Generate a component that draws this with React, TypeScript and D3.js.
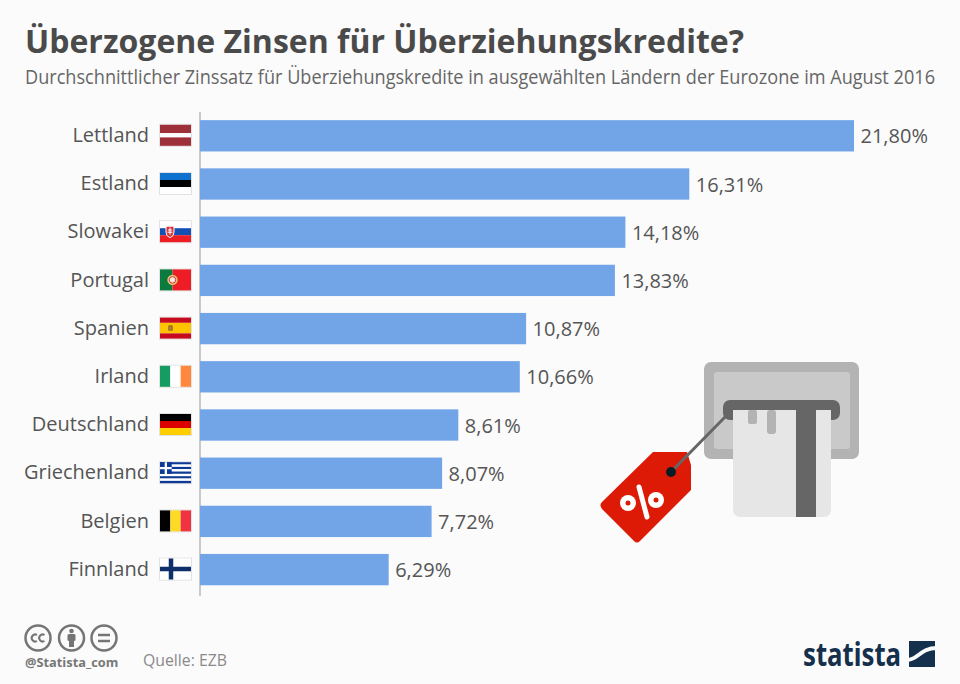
import React from "react";
import * as d3 from "d3";

const countries = ["Lettland","Estland","Slowakei","Portugal","Spanien","Irland","Deutschland","Griechenland","Belgien","Finnland"];
const rates = [21.80,16.31,14.18,13.83,10.87,10.66,8.61,8.07,7.72,6.29];
const titleText = "Überzogene Zinsen für Überziehungskredite?";
const subtitleText = "Durchschnittlicher Zinssatz für Überziehungskredite in ausgewählten Ländern der Eurozone im August 2016";
const sourceText = "Quelle: EZB";
const handleText = "@Statista_com";

const W = 960, H = 684;
const FONT = "'Open Sans', sans-serif";
const x = d3.scaleLinear().domain([0, 21.8]).range([200, 854]);
const y = d3.scaleBand().domain(countries).range([111.7, 593.7]).paddingInner(0.35).paddingOuter(0.175);
const fmt = (v: number) => v.toFixed(2).replace(".", ",") + "%";

function Flag({ name }: { name: string }) {
  const w = 31, h = 21;
  const hs = (cols: string[], weights?: number[]) => {
    const ws = weights ?? cols.map(() => 1);
    const t = d3.sum(ws); let c = 0;
    return cols.map((col, i) => { const r = <rect key={i} x={0} y={c / t * h} width={w} height={ws[i] / t * h} fill={col} />; c += ws[i]; return r; });
  };
  const vs = (cols: string[]) => cols.map((col, i) => <rect key={i} x={i * w / cols.length} y={0} width={w / cols.length} height={h} fill={col} />);
  let c: React.ReactNode = null;
  switch (name) {
    case "Lettland": c = hs(["#9e3039","#ffffff","#9e3039"],[2,1,2]); break;
    case "Estland": c = hs(["#0f72ce","#000000","#ffffff"]); break;
    case "Slowakei": c = <>{hs(["#ffffff","#1450b4","#ee1c25"])}
      <path d="M6 5h8v6q0 4-4 5.500q-4-1.500-4-5.500z" fill="#d8313a" stroke="#fff" strokeWidth={1} />
      <path d="M10 6.500v7M8 8.800h4M7.500 11h5" stroke="#fff" strokeWidth={1} /></>; break;
    case "Portugal": c = <><rect width={12.500} height={h} fill="#0a7a3e" /><rect x={12.500} width={18.500} height={h} fill="#ee1c25" />
      <circle cx={12.500} cy={10.500} r={5.200} fill="#e3c96e" /><circle cx={12.500} cy={10.500} r={3.300} fill="#f4e4e4" stroke="#d33" /></>; break;
    case "Spanien": c = <>{hs(["#c60b1e","#ffc400","#c60b1e"],[1,2,1])}<rect x={8} y={7.500} width={5} height={6} rx={1.500} fill="#ad7a2b" /></>; break;
    case "Irland": c = vs(["#169b62","#ffffff","#ff883e"]); break;
    case "Deutschland": c = hs(["#000000","#dd0000","#ffce00"]); break;
    case "Griechenland": c = <>{hs(["#0d3a94","#fff","#0d3a94","#fff","#0d3a94","#fff","#0d3a94","#fff","#0d3a94"])}
      <rect width={11.700} height={11.700} fill="#0d3a94" /><path d="M5.850 0v11.700M0 5.850h11.700" stroke="#fff" strokeWidth={2.300} /></>; break;
    case "Belgien": c = vs(["#000000","#fdda24","#ef3340"]); break;
    case "Finnland": c = <><rect width={w} height={h} fill="#fff" /><path d="M11 0v21M0 10.500h31" stroke="#0f2f6b" strokeWidth={4.500} /></>; break;
  }
  return <g><rect x={-0.5} y={-0.5} width={w + 1} height={h + 1} fill="none" stroke="#e2e2e2" />{c}</g>;
}

export default function App() {
  return (
    <svg width={W} height={H} viewBox={`0 0 ${W} ${H}`} style={{ position: "absolute", left: 0, top: 0, display: "block", fontFamily: FONT }}>
      <rect width={W} height={H} fill="#fbfbfb" />
      <text x={25} y={52.500} fontSize={31.500} fontWeight={700} fill="#4a4a4a" textLength={719} lengthAdjust="spacingAndGlyphs">{titleText}</text>
      <text x={25} y={83.500} fontSize={19.500} fill="#666666" textLength={910} lengthAdjust="spacingAndGlyphs">{subtitleText}</text>
      <line x1={200} x2={200} y1={112} y2={596} stroke="#c9c9c9" strokeWidth={2} />
      {countries.map((c, i) => {
        const by = y(c)!, bh = y.bandwidth(), cy = by + bh / 2;
        return (
          <g key={c}>
            <rect x={x(0)} y={by} width={x(rates[i]) - x(0)} height={bh} fill="#72a5e8" />
            <text x={149} y={cy + 6.200} textAnchor="end" fontSize={20} fill="#555555">{c}</text>
            <g transform={`translate(160,${cy - 11})`}><Flag name={c} /></g>
            <text x={x(rates[i]) + 6.500} y={cy + 7.500} fontSize={20} fill="#555555">{fmt(rates[i])}</text>
          </g>
        );
      })}
      {/* card illustration */}
      <g>
        <rect x={704} y={362} width={155} height={97} rx={7} fill="#b3b3b3" />
        <rect x={714} y={372} width={136} height={77} rx={3} fill="#c9c9c9" />
        <path d="M733 410h98v99q0 8-8 8h-82q-8 0-8-8z" fill="#e6e6e6" />
        <rect x={796} y={410} width={20} height={107} fill="#666666" />
        <rect x={748} y={410} width={9} height={14} rx={2} fill="#b3b3b3" />
        <rect x={767} y={410} width={9} height={24} rx={3} fill="#b3b3b3" />
        <path d="M730 400H833a7 7 0 0 1 7 7v6a7 7 0 0 1-7 7h-2v-10H733v10h-3a7 7 0 0 1-7-7v-6a7 7 0 0 1 7-7z" fill="#666666" />
        <path d="M653 452L687 452L691 465L691 490L640 541Q637 544 634 541L602 509Q599 505 602 502Z" fill="#dc1a06" />
        <line x1={671} y1={472} x2={727} y2={415} stroke="#666666" strokeWidth={3} />
        <circle cx={671} cy={472} r={5} fill="#0c1c24" />
        <circle cx={628} cy={503} r={8} fill="#fff" /><circle cx={628} cy={503} r={2.500} fill="#dc1a06" />
        <circle cx={656} cy={500} r={8} fill="#fff" /><circle cx={656} cy={500} r={2.500} fill="#dc1a06" />
        <line x1={639} y1={487} x2={647} y2={517} stroke="#fff" strokeWidth={5} strokeLinecap="round" />
      </g>
      {/* footer */}
      <g fill="none" stroke="#757575" strokeWidth={2.500}>
        <circle cx={38} cy={638} r={12.500} /><circle cx={71.500} cy={638} r={12.500} /><circle cx={104} cy={638} r={12.500} />
        <path d="M37 635a3.500 3.500 0 1 0 0 6M44.500 635a3.500 3.500 0 1 0 0 6" strokeWidth={2} />
        <path d="M98 635h12M98 641h12" strokeWidth={2.500} />
      </g>
      <circle cx={71.500} cy={631} r={2.300} fill="#757575" />
      <rect x={67.500} y={634} width={8} height={7} rx={1.500} fill="#757575" />
      <rect x={69} y={640} width={5} height={7} fill="#757575" />
      <text x={25} y={667} fontSize={12.800} fontWeight={700} fill="#777777">{handleText}</text>
      <text x={143} y={666} fontSize={15.800} fill="#8a8a8a">{sourceText}</text>
      <text x={803} y={665.500} fontSize={32} fontWeight={700} fill="#14304c" textLength={98} lengthAdjust="spacingAndGlyphs" style={{ fontFamily: "'Noto Sans', 'Open Sans', sans-serif" }}>statista</text>
      <rect x={909} y={641} width={26} height={26} fill="#14304c" />
      <path d="M907 660C918 660 920 648 937 648" fill="none" stroke="#fbfbfb" strokeWidth={4} />
    </svg>
  );
}
